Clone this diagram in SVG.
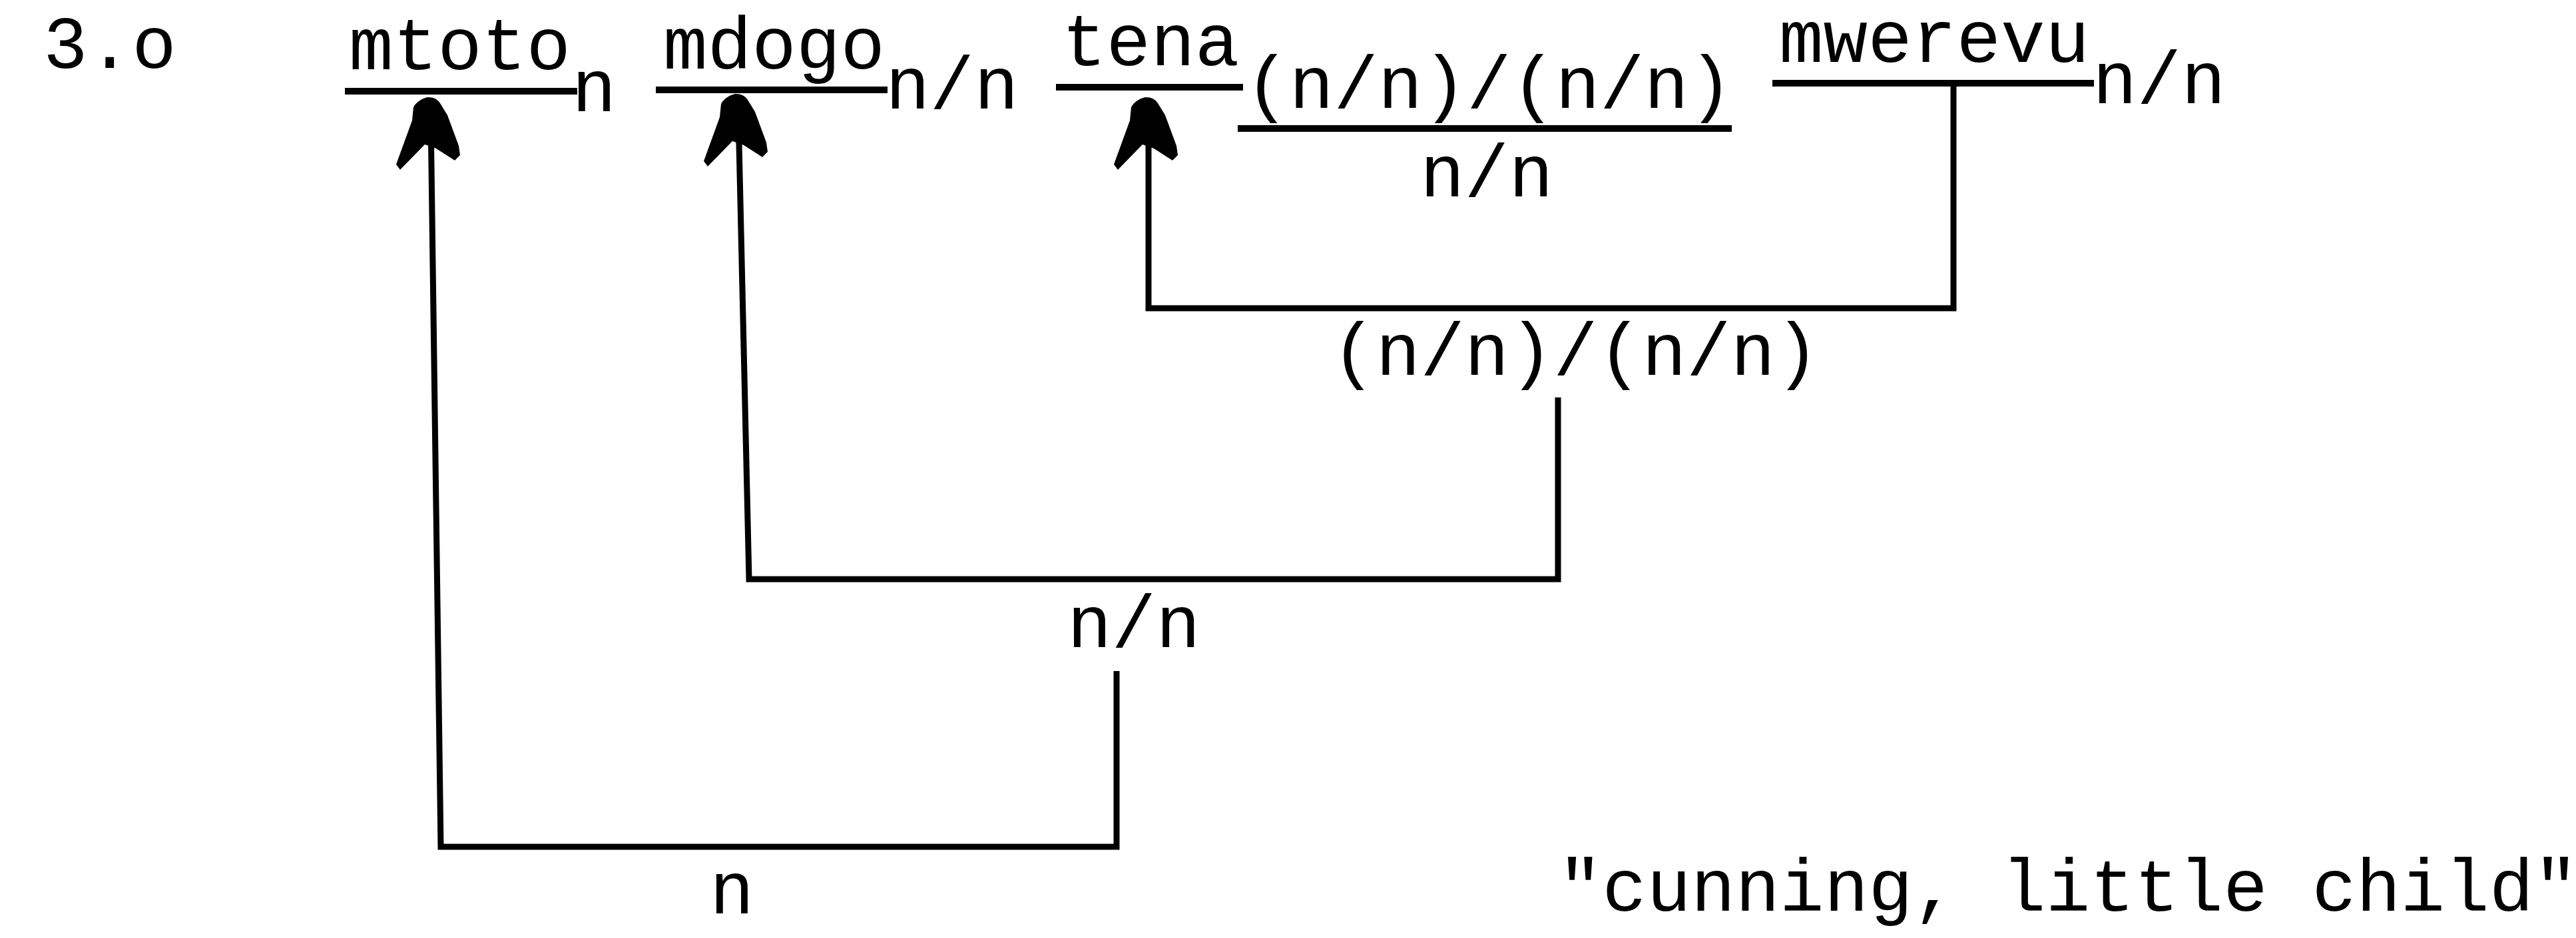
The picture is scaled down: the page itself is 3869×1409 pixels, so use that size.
<svg xmlns="http://www.w3.org/2000/svg" width="3869" height="1409" viewBox="0 0 3869 1409">
<style>
text{font-family:"Liberation Mono","DejaVu Sans Mono",monospace;font-size:111px;fill:#000}
.ul{stroke:#000;stroke-width:10;fill:none}
.cn{stroke:#000;stroke-width:9;fill:none;stroke-linejoin:miter}
.ar{marker-end:url(#head)}
</style>
<defs>
<marker id="head" markerUnits="userSpaceOnUse" orient="0" refX="0" refY="0" markerWidth="120" markerHeight="140" overflow="visible">
<path d="M-4,-31 C-12,-30 -22,-24 -26,-16 L-28,4 L-52,70 L-46,78 L-9,40 L8,46 L36,64 L44,56 L42,42 L25,-4 L14,-22 C10,-28 4,-31 -4,-31 Z" fill="#000"/>
</marker>
</defs>
<rect width="3869" height="1409" fill="#fff"/>
<g id="number"><text x="65" y="102">3.o</text></g>
<g id="n_mtoto">
<text x="524" y="104">mtoto</text>
<line class="ul" x1="518" y1="137" x2="867" y2="137"/>
<text x="859" y="167">n</text>
</g>
<g id="n_mdogo">
<text x="996" y="103">mdogo</text>
<line class="ul" x1="985" y1="135" x2="1333" y2="135"/>
<text x="1330" y="163">n/n</text>
</g>
<g id="n_tena">
<text x="1595" y="98">tena</text>
<line class="ul" x1="1586" y1="131" x2="1867" y2="131"/>
<text x="1870" y="162">(n/n)/(n/n)</text>
<line class="ul" x1="1859" y1="193" x2="2601" y2="193"/>
<text x="2133" y="295">n/n</text>
</g>
<g id="n_mwerevu">
<text x="2672" y="93">mwerevu</text>
<line class="ul" x1="2662" y1="125" x2="3145" y2="125"/>
<text x="3143" y="155">n/n</text>
</g>
<g id="l_adv"><text x="2000" y="563">(n/n)/(n/n)</text></g>
<g id="l_adj"><text x="1603" y="972">n/n</text></g>
<g id="l_n"><text x="1066" y="1372">n</text></g>
<g id="gloss"><text x="2340" y="1368">"cunning, little child"</text></g>
<g id="connectors">
<path class="cn ar" d="M2934,129 V463 H1725 V177"/>
<path class="cn ar" d="M2340,597 V870 H1125 L1109,172"/>
<path class="cn ar" d="M1677,1008 V1272 H662 L647,177"/>
</g>
</svg>
